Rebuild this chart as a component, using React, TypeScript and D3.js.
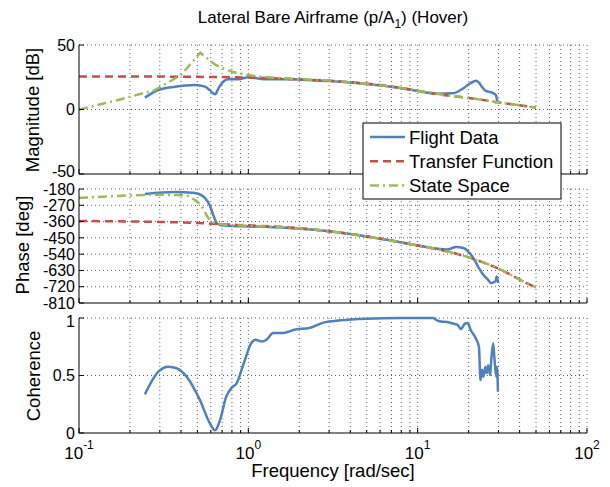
import React from "react";
import * as d3 from "d3";

// ---------- data ----------
const tfFreq = [0.1, 0.3, 0.5, 0.7, 1, 2, 3, 5, 7.5, 10, 15, 20, 30, 44, 50];
const tfMag = [25.5, 25.5, 25.3, 25.1, 24.8, 23.3, 22.3, 20.0, 17.3, 14.6, 10.8, 9.0, 5.5, 2.5, 1.5];
const tfPhase = [-357, -362, -368, -375, -381, -396, -414, -442, -470, -492, -525, -558, -620, -700, -724];

const ssMagFreq = [0.1, 0.17, 0.28, 0.4, 0.52, 0.64, 0.8, 1, 1.2, 2, 3, 5, 7.5, 10, 15, 20, 30, 44, 50];
const ssMag = [0, 7.4, 15, 26.7, 44, 34.5, 29.3, 26.7, 25.3, 23.5, 22.4, 20, 17.3, 14.6, 10.8, 9, 5.5, 2.5, 1.5];
const ssPhFreq = [0.1, 0.15, 0.29, 0.42, 0.48, 0.53, 0.58, 0.636, 0.74, 1, 2, 3, 5, 7.5, 10, 15, 20, 30, 44, 50];
const ssPhase = [-230, -221, -212, -215, -239, -276, -340, -368, -377, -383, -397, -414, -442, -470, -492, -525, -558, -620, -700, -724];

const fdMagFreq = [0.245, 0.294, 0.369, 0.483, 0.555, 0.59, 0.636, 0.67, 0.71, 0.76, 0.875, 1, 1.25, 1.8, 2.25, 3, 5, 7.5, 10, 13, 16.2, 18.6, 20, 21.3, 22.2, 23, 24, 25.2, 27.3, 29, 29.5, 30];
const fdMag = [9.2, 15.1, 17.7, 19, 17.7, 15.1, 11.8, 17, 21.5, 23.4, 23.4, 25, 23.4, 23.4, 22.8, 22.1, 19.8, 17.1, 14.3, 12.3, 12.6, 16.4, 19.5, 21.5, 22.3, 20.8, 17.5, 14.4, 13.3, 11.2, 7, 6.8];
const fdPhFreq = [0.245, 0.369, 0.483, 0.53, 0.555, 0.59, 0.62, 0.65, 0.69, 0.8, 1, 1.73, 3, 5, 7.5, 10, 14.9, 16.9, 18.6, 21.3, 23, 24.4, 26, 27.1, 28.8, 29.3, 29.9];
const fdPhase = [-208, -197, -202, -215, -230, -267, -322, -368, -381, -385, -387, -396, -414, -442, -470, -492, -515, -500, -506, -561, -617, -654, -681, -700, -690, -663, -700];

const cohFreq = [0.245, 0.294, 0.337, 0.377, 0.432, 0.518, 0.594, 0.636, 0.68, 0.74, 0.8, 0.85, 0.94, 1.04, 1.1, 1.2, 1.29, 1.4, 1.6, 1.9, 2.3, 2.77, 3.5, 5, 8, 12.3, 13.0, 13.7, 14.9, 16.3, 17.2, 18.0, 19.0, 19.8, 20.5, 22.0, 23.0, 23.5, 24.0, 24.5, 25.1, 25.6, 26.1, 26.8, 27.2, 27.9, 28.4, 29.1, 29.4, 29.8];
const cohVal = [0.336, 0.533, 0.577, 0.563, 0.49, 0.286, 0.082, 0.024, 0.11, 0.315, 0.397, 0.43, 0.607, 0.78, 0.81, 0.795, 0.816, 0.869, 0.869, 0.9, 0.913, 0.96, 0.98, 0.994, 1.0, 1.0, 0.98, 0.97, 0.965, 0.95, 0.94, 0.904, 0.95, 0.956, 0.9, 0.825, 0.752, 0.46, 0.55, 0.49, 0.577, 0.52, 0.59, 0.504, 0.635, 0.78, 0.65, 0.49, 0.577, 0.358];

const magTicks = [-50, 0, 50];
const phaseTicks = [-810, -720, -630, -540, -450, -360, -270, -180];
const cohTicks = [0, 0.5, 1];
const cohTickLabels = ["0", "0.5", "1"];
const decadeExps = [-1, 0, 1, 2];

const legendLabels = ["Flight Data", "Transfer Function", "State Space"];

// ---------- style ----------
const FONT = "'Liberation Sans', Arial, Helvetica, sans-serif";
const BLUE = "#4F81BD";
const RED = "#C0504D";
const GREEN = "#9BBB59";

const x = d3.scaleLog().domain([0.1, 100]).range([79, 587]);
const yMag = d3.scaleLinear().domain([-50, 50]).range([174, 45]);
const yPh = d3.scaleLinear().domain([-810, -180]).range([303, 189]);
const yCoh = d3.scaleLinear().domain([0, 1]).range([433, 318]);

const minorFreqs: number[] = [];
for (let e = -1; e <= 1; e++) for (let m = 1; m <= 9; m++) minorFreqs.push(m * Math.pow(10, e));
minorFreqs.push(100);

function mkPath(fs: number[], vs: number[], y: d3.ScaleLinear<number, number>, curve: d3.CurveFactory) {
  const pts = fs.map((f, i) => [f, vs[i]] as [number, number]);
  return d3.line<[number, number]>().x((d) => x(d[0])).y((d) => y(d[1])).curve(curve)(pts) || "";
}

function Panel({ y, ticks, labels, botShift = 0, topShift = 0, children }: { y: d3.ScaleLinear<number, number>; ticks: number[]; labels: string[]; botShift?: number; topShift?: number; children?: React.ReactNode }) {
  const [d0, d1] = y.domain();
  const top = y(d1);
  const bot = y(d0);
  const x0 = x.range()[0];
  const x1 = x.range()[1];
  return (
    <g>
      {minorFreqs.filter((f) => f > 0.1).map((f, i) => (
        <line key={"vg" + i} x1={x(f)} x2={x(f)} y1={top} y2={bot} stroke="#333" strokeWidth={0.8} strokeDasharray="1,3" />
      ))}
      {ticks.filter((t) => t !== d0).map((t, i) => (
        <line key={"hg" + i} x1={x0} x2={x1} y1={y(t)} y2={y(t)} stroke="#333" strokeWidth={0.8} strokeDasharray="1,3" />
      ))}
      {children}
      <line x1={x0} x2={x1} y1={bot} y2={bot} stroke="#000" strokeWidth={1} />
      <line x1={x0} x2={x0} y1={top} y2={bot} stroke="#000" strokeWidth={1} />
      {minorFreqs.map((f, i) => (
        <line key={"xt" + i} x1={x(f)} x2={x(f)} y1={bot} y2={bot - (Number.isInteger(Math.log10(f)) ? 5 : 3)} stroke="#000" strokeWidth={1} />
      ))}
      {ticks.map((t, i) => (
        <g key={"yt" + i}>
          <line x1={x0} x2={x0 + 5} y1={y(t)} y2={y(t)} stroke="#000" strokeWidth={1} />
          <text x={x0 - 4} y={y(t) - (t === d0 ? botShift : 0) + (t === d1 ? topShift : 0)} dy="0.36em" textAnchor="end" fontSize={16} fontFamily={FONT} fill="#000">
            {labels[i]}
          </text>
        </g>
      ))}
    </g>
  );
}

export default function App() {
  const lw = 2.5;
  const magLabels = magTicks.map(String);
  const phLabels = phaseTicks.map(String);
  return (
    <svg width={610} height={487} style={{ position: "absolute", left: 0, top: 0, background: "#fff" }}>
      <rect x={0} y={0} width={610} height={487} fill="#fff" />
      <text x={333} y={23} textAnchor="middle" fontSize={17} fontFamily={FONT}>
        Lateral Bare Airframe (p/A<tspan fontSize={12} dy={5}>1</tspan><tspan dy={-5}>) (Hover)</tspan>
      </text>

      <Panel y={yMag} ticks={magTicks} labels={magLabels} botShift={3}>
        <path d={mkPath(fdMagFreq, fdMag, yMag, d3.curveMonotoneX)} fill="none" stroke={BLUE} strokeWidth={lw} />
        <path d={mkPath(tfFreq, tfMag, yMag, d3.curveMonotoneX)} fill="none" stroke={RED} strokeWidth={lw} strokeDasharray="8,5" />
        <path d={mkPath(ssMagFreq, ssMag, yMag, d3.curveLinear)} fill="none" stroke={GREEN} strokeWidth={lw} strokeDasharray="9,4,2,4" />
      </Panel>
      <text transform="translate(39,110) rotate(-90)" textAnchor="middle" fontSize={18.5} fontFamily={FONT}>Magnitude [dB]</text>

      <Panel y={yPh} ticks={phaseTicks} labels={phLabels}>
        <path d={mkPath(fdPhFreq, fdPhase, yPh, d3.curveMonotoneX)} fill="none" stroke={BLUE} strokeWidth={lw} />
        <path d={mkPath(tfFreq, tfPhase, yPh, d3.curveMonotoneX)} fill="none" stroke={RED} strokeWidth={lw} strokeDasharray="8,5" />
        <path d={mkPath(ssPhFreq, ssPhase, yPh, d3.curveMonotoneX)} fill="none" stroke={GREEN} strokeWidth={lw} strokeDasharray="9,4,2,4" />
      </Panel>
      <text transform="translate(29,245) rotate(-90)" textAnchor="middle" fontSize={18.5} fontFamily={FONT}>Phase [deg]</text>

      <Panel y={yCoh} ticks={cohTicks} labels={cohTickLabels} topShift={3}>
        <path d={mkPath(cohFreq, cohVal, yCoh, d3.curveMonotoneX)} fill="none" stroke={BLUE} strokeWidth={lw} />
      </Panel>
      <text transform="translate(40,376) rotate(-90)" textAnchor="middle" fontSize={18.5} fontFamily={FONT}>Coherence</text>

      {decadeExps.map((e) => (
        <text key={"xl" + e} x={x(Math.pow(10, e))} y={459} textAnchor="middle" fontSize={17} fontFamily={FONT}>
          10<tspan fontSize={12} dy={-10}>{String(e)}</tspan>
        </text>
      ))}
      <text x={333} y={477} textAnchor="middle" fontSize={18.5} fontFamily={FONT}>Frequency [rad/sec]</text>

      <g>
        <rect x={363} y={123} width={198} height={76} fill="#fff" stroke="#000" strokeWidth={1} />
        {legendLabels.map((lab, i) => {
          const cy = 137 + i * 24.3;
          const color = [BLUE, RED, GREEN][i];
          const dash = ["", "8,5", "9,4,2,4"][i];
          return (
            <g key={lab}>
              <line x1={370} x2={405} y1={cy} y2={cy} stroke={color} strokeWidth={lw} strokeDasharray={dash || undefined} />
              <text x={409} y={cy} dy="0.36em" fontSize={18.5} fontFamily={FONT}>{lab}</text>
            </g>
          );
        })}
      </g>
    </svg>
  );
}
